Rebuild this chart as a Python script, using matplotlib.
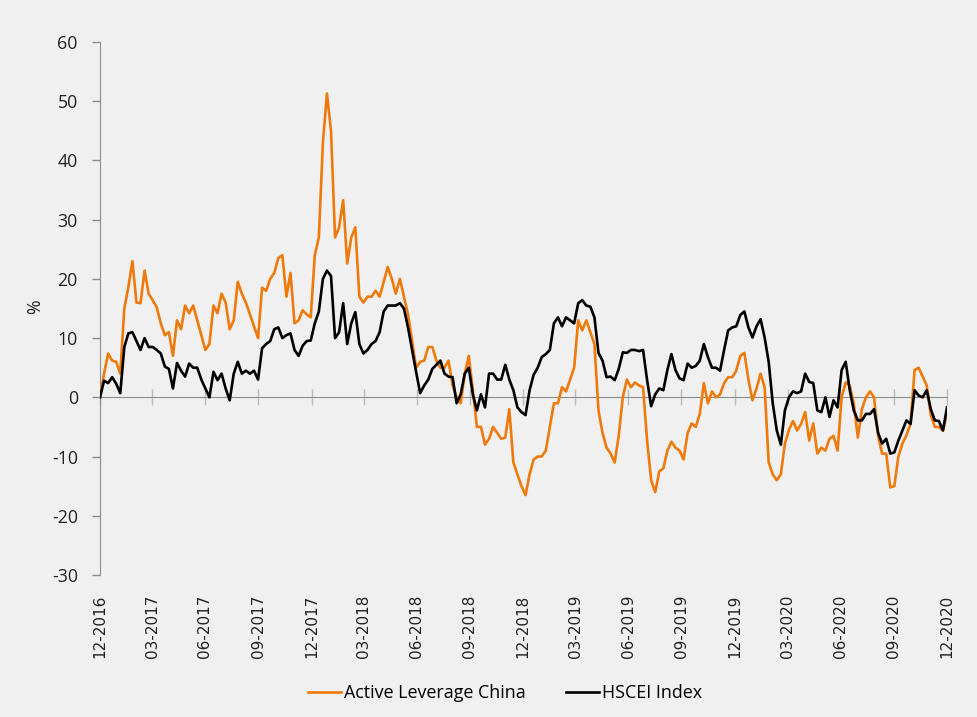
import numpy as np
import pandas as pd
import matplotlib
matplotlib.use("Agg")
import matplotlib.pyplot as plt
import matplotlib.dates as mdates

# weekly readings, Dec 2016 .. Dec 2020 (% change)
active_leverage = [
    0, 4, 7.4, 6.2, 6, 4, 15, 18.6, 23, 16,
    15.9, 21.4, 17.5, 16.4, 15.2, 12.5, 10.5, 11, 7, 13,
    11.5, 15.5, 14.2, 15.5, 13, 10.5, 8, 9, 15.5, 14.2,
    17.5, 16, 11.5, 13, 19.5, 17.5, 16, 14, 12, 10,
    18.5, 18, 20, 21, 23.5, 24, 17, 21, 12.5, 13,
    14.7, 14, 13.5, 24, 27, 43, 51.3, 45, 27, 28.7,
    33.3, 22.6, 27, 28.7, 17, 16, 17, 17, 18, 17,
    19.5, 22, 20, 17.5, 20, 17, 14, 9.6, 5, 6,
    6.2, 8.5, 8.5, 6.2, 5, 5, 6.2, 2, 0, -1,
    4, 7, 1.2, -5, -5, -8, -7, -5, -6, -7,
    -6.8, -2, -11, -13, -15, -16.5, -13, -10.5, -10, -10,
    -9, -5, -1, -1, 1.7, 1, 3, 5, 13, 11.3,
    13, 11, 9, -2.2, -6, -8.5, -9.5, -11, -6.5, 0,
    3, 1.7, 2.5, 2, 1.7, -7.3, -14, -16, -12.5, -12,
    -9, -7.5, -8.5, -9, -10.5, -6, -4.4, -5, -2.8, 2.4,
    -1, 1, 0, 0.5, 2.4, 3.4, 3.4, 4.5, 7, 7.5,
    3, -0.5, 1.5, 4, 1.7, -11, -13, -14, -13, -7.8,
    -5.5, -4, -5.6, -4.5, -2.5, -7.3, -4.4, -9.5, -8.5, -9,
    -7, -6.5, -9, 0, 2.5, 2, -1, -6.8, -2, 0,
    1, 0, -6.5, -9.5, -9.5, -15.2, -15, -10, -7.8, -6.4,
    -4.5, 4.6, 5, 3.5, 2, -3, -5, -5, -5.6, -2.8,
]
hscei = [
    0, 2.8, 2.4, 3.4, 2.3, 0.7, 8.5, 10.8, 11, 9.5,
    8, 10, 8.5, 8.5, 8, 7.4, 5.2, 4.8, 1.5, 5.8,
    4.5, 3.5, 5.7, 5, 5, 3, 1.5, 0, 4.3, 2.9,
    4, 1.5, -0.5, 4, 6, 4, 4.5, 4, 4.5, 3,
    8.3, 9, 9.5, 11.5, 11.8, 10, 10.5, 10.8, 8, 7,
    8.7, 9.5, 9.6, 12.5, 14.5, 20, 21.4, 20.5, 10, 11,
    15.9, 9, 12.5, 14.4, 9, 7.4, 8, 9, 9.5, 11,
    14.5, 15.5, 15.5, 15.5, 15.9, 15, 11.8, 8, 4.3, 0.7,
    2, 3, 4.8, 5.5, 6.2, 4, 3.5, 3.4, -1, 0.5,
    4, 5, 0.5, -2.2, 0.5, -1.7, 4, 4, 3, 3,
    5.5, 3, 1.2, -1.7, -2.5, -3, 1.2, 3.8, 5, 6.8,
    7.3, 8, 12.5, 13.5, 12, 13.5, 13, 12.5, 15.9, 16.4,
    15.5, 15.3, 13.5, 7.5, 6.2, 3.4, 3.5, 2.9, 4.8, 7.6,
    7.5, 8, 8, 7.8, 8, 2.9, -1.5, 0.5, 1.5, 1.2,
    4.6, 7.3, 4.6, 3.2, 2.9, 5.7, 5, 5.3, 6.2, 9,
    6.8, 5, 5, 4.5, 8, 11.3, 11.8, 12, 13.9, 14.5,
    11.8, 10.1, 12, 13.2, 10.1, 6, -1, -5.6, -8, -2.2,
    0, 1, 0.7, 1, 4, 2.6, 2.4, -2.2, -2.5, 0,
    -3.3, -0.5, -1.7, 4.6, 6, 1.2, -2.2, -3.9, -3.9, -2.8,
    -2.8, -2, -6, -7.8, -7, -9.5, -9.3, -7.3, -5.6, -3.9,
    -4.5, 1.2, 0.3, 0, 1.2, -2, -3.9, -4, -5.6, -1.7,
]
dates = pd.date_range("2016-12-31", "2020-12-31", periods=len(hscei))
quarter_ticks = pd.date_range("2016-12-31", "2020-12-31", freq="QE")
series_names = ["Active Leverage China", "HSCEI Index"]

bg = "#f0f0f0"
grey = "#8c8c8c"
orange = "#ee7a0b"

plt.rcParams["font.family"] = ["Open Sans", "DejaVu Sans"]
plt.rcParams["axes.unicode_minus"] = False

fig = plt.figure(figsize=(9.78, 7.17), dpi=100, facecolor=bg)
ax = fig.add_axes([100 / 978, 1 - 575 / 717, 847 / 978, 533 / 717])
ax.set_facecolor(bg)

ax.plot(dates, active_leverage, color=orange, lw=1.9, label=series_names[0], zorder=3)
ax.plot(dates, hscei, color="black", lw=1.9, label=series_names[1], zorder=4)

ax.set_ylim(-30, 60)
ax.set_yticks(range(-30, 61, 10))
ax.set_xlim(dates[0], dates[-1])

for s in ["top", "right", "bottom"]:
    ax.spines[s].set_visible(False)
ax.spines["left"].set_color(grey)
ax.tick_params(axis="y", colors=grey, length=6, width=1, pad=10,
               labelsize=12.8, labelcolor="#222222")

ax.set_xticks(quarter_ticks)
ax.xaxis.set_major_formatter(mdates.DateFormatter("%m-%Y"))
ax.tick_params(axis="x", length=0, pad=14, labelsize=11, labelcolor="#222222")
for lab in ax.get_xticklabels():
    lab.set_rotation(90)
    lab.set_family("DejaVu Sans")

# zero line with crossing ticks
zero_ax = ax.secondary_xaxis(1 / 3)
zero_ax.set_xticks(quarter_ticks)
zero_ax.set_xticklabels([])
zero_ax.spines["bottom"].set_color(grey)
zero_ax.tick_params(axis="x", direction="inout", length=12, color="#bbbbbb", width=1)

fig.text(35 / 978, 1 - 307 / 717, "%", rotation=90, ha="center", va="center",
         fontsize=12.8, color="#222222")

fig.legend(loc="center", bbox_to_anchor=(505 / 978, 1 - 693 / 717), ncol=2,
           frameon=False, fontsize=12.9, handlelength=1.85, handletextpad=0.2,
           columnspacing=2.2)

fig.savefig("out.png", dpi=100, facecolor=bg)
